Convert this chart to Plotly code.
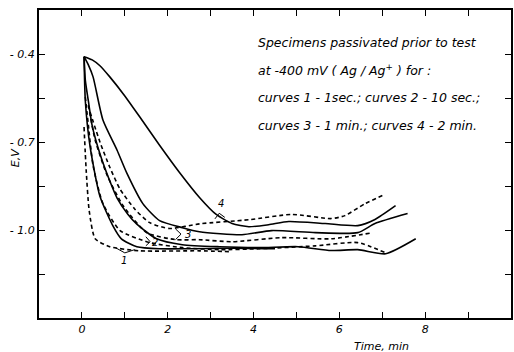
import plotly.graph_objects as go

# ---- data (time in min, potential in V) ----
s4_t = [0.05, 0.24, 0.42, 0.65, 1.00, 1.35, 1.81, 2.27, 2.74, 3.13, 3.50, 3.89, 4.35, 4.82, 5.67, 6.43, 6.83, 7.31]
s4_e = [-0.409, -0.420, -0.440, -0.478, -0.543, -0.615, -0.711, -0.803, -0.889, -0.947, -0.978, -0.989, -0.982, -0.971, -0.978, -0.985, -0.964, -0.917]

s3_t = [0.05, 0.15, 0.26, 0.49, 0.82, 1.05, 1.42, 1.81, 2.34, 2.74, 3.73, 4.42, 5.44, 6.43, 6.83, 7.59]
s3_e = [-0.409, -0.437, -0.478, -0.625, -0.728, -0.807, -0.910, -0.968, -0.992, -1.006, -1.016, -1.002, -1.009, -1.009, -0.978, -0.944]

s2_t = [0.05, 0.08, 0.15, 0.24, 0.42, 0.65, 0.82, 1.07, 1.28, 1.74, 2.34, 3.20, 4.12, 5.04, 5.81, 6.43, 7.08, 7.78]
s2_e = [-0.409, -0.490, -0.560, -0.645, -0.740, -0.833, -0.891, -0.946, -0.980, -1.030, -1.050, -1.057, -1.060, -1.057, -1.070, -1.067, -1.081, -1.030]

s1_t = [0.05, 0.08, 0.19, 0.42, 0.72, 0.92, 1.28, 1.80, 2.50, 3.50, 4.50]
s1_e = [-0.409, -0.560, -0.715, -0.885, -0.985, -1.030, -1.057, -1.064, -1.064, -1.062, -1.064]

d4_t = [0.19, 0.42, 0.65, 0.89, 1.24, 1.58, 2.04, 2.74, 3.89, 4.89, 5.81, 6.13, 6.60, 7.01]
d4_e = [-0.598, -0.700, -0.786, -0.861, -0.930, -0.975, -0.995, -0.979, -0.965, -0.947, -0.961, -0.951, -0.910, -0.882]

d3_t = [0.15, 0.31, 0.59, 0.96, 1.51, 2.20, 2.74, 3.50, 4.65, 5.81, 6.78]
d3_e = [-0.574, -0.694, -0.814, -0.917, -1.009, -1.033, -1.033, -1.040, -1.026, -1.030, -1.009]

d2_t = [0.08, 0.15, 0.26, 0.49, 0.89, 1.58, 2.34, 3.20, 4.12, 5.44, 6.43, 7.08]
d2_e = [-0.546, -0.642, -0.780, -0.910, -1.002, -1.043, -1.060, -1.067, -1.064, -1.054, -1.043, -1.078]

d1_t = [0.05, 0.10, 0.17, 0.31, 0.65, 1.35, 2.74, 3.50]
d1_e = [-0.649, -0.797, -0.934, -1.030, -1.057, -1.071, -1.071, -1.074]

# curve-number labels and their small pointer marks
label_text = ["4", "3", "2", "1"]
label_t = [3.24, 2.48, 1.70, 0.98]
label_e = [-0.910, -1.014, -1.042, -1.104]
ptr_t = [[3.10, 3.20, 3.33], [2.18, 2.31, 2.18], [1.49, 1.59, 1.49], [0.79, 1.00, 1.23]]
ptr_e = [[-0.962, -0.943, -0.957], [-0.996, -1.014, -1.033], [-1.023, -1.040, -1.054], [-1.061, -1.078, -1.067]]

x_major = [0, 2, 4, 6, 8]
x_major_text = ["0", "2", "4", "6", "8"]
x_minor = [1, 3, 5, 7, 9]
y_major = [-0.4, -0.7, -1.0]
y_major_text = ["- 0.4", "- 0.7", "- 1.0"]
y_minor = [-0.25, -0.55, -0.85, -1.15]

note_lines = [
    "Specimens passivated prior to test",
    "at -400 mV ( Ag / Ag<sup>+</sup> ) for :",
    "curves 1 - 1sec.; curves 2 - 10 sec.;",
    "curves 3 - 1 min.; curves 4 - 2 min.",
]

FONT = "DejaVu Sans"

fig = go.Figure()
for t, e in [(s4_t, s4_e), (s3_t, s3_e), (s2_t, s2_e), (s1_t, s1_e)]:
    fig.add_trace(go.Scatter(x=t, y=e, mode="lines", line=dict(color="black", width=1.6, shape="spline", smoothing=0.6), showlegend=False))
for t, e in [(d4_t, d4_e), (d3_t, d3_e), (d2_t, d2_e), (d1_t, d1_e)]:
    fig.add_trace(go.Scatter(x=t, y=e, mode="lines", line=dict(color="black", width=1.6, dash="4px,3px", shape="spline", smoothing=0.6), showlegend=False))
for t, e in zip(ptr_t, ptr_e):
    fig.add_trace(go.Scatter(x=t, y=e, mode="lines", line=dict(color="black", width=1), showlegend=False))

for txt, t, e in zip(label_text, label_t, label_e):
    fig.add_annotation(x=t, y=e, text=txt, showarrow=False, xanchor="center", yanchor="middle",
                       font=dict(family=FONT, size=10, color="black", style="italic"))

for i, line in enumerate(note_lines):
    fig.add_annotation(x=0.46, y=0.896 - i * 0.09, xref="paper", yref="paper", xanchor="left", yanchor="middle",
                       text=line, showarrow=False, font=dict(family=FONT, size=12.5, color="black", style="italic"))

fig.add_annotation(x=-0.05, y=0.52, xref="paper", yref="paper", xanchor="center", yanchor="middle",
                   text="E,V", textangle=-90, showarrow=False,
                   font=dict(family=FONT, size=11, color="black", style="italic"))
fig.add_annotation(x=0.726, y=-0.091, xref="paper", yref="paper", xanchor="center", yanchor="middle",
                   text="Time, min", showarrow=False,
                   font=dict(family=FONT, size=11, color="black", style="italic"))

fig.update_xaxes(range=[-1, 10], tickvals=x_major, ticktext=x_major_text, ticks="inside", ticklen=6, tickwidth=1.2,
                 tickcolor="black", showline=True, linewidth=2, linecolor="black", mirror="allticks",
                 minor=dict(tickvals=x_minor, ticks="inside", ticklen=6, tickwidth=1.2, tickcolor="black"),
                 showgrid=False, zeroline=False, tickfont=dict(family=FONT, size=11, color="black", style="italic"))
fig.update_yaxes(range=[-1.3, -0.25], tickvals=y_major, ticktext=y_major_text, ticks="inside", ticklen=6, tickwidth=1.2,
                 tickcolor="black", showline=True, linewidth=2, linecolor="black", mirror="allticks",
                 minor=dict(tickvals=y_minor, ticks="inside", ticklen=6, tickwidth=1.2, tickcolor="black"),
                 showgrid=False, zeroline=False, tickfont=dict(family=FONT, size=11, color="black", style="italic"))

fig.update_layout(width=514, height=352, margin=dict(l=39, r=1, t=10, b=34),
                  paper_bgcolor="white", plot_bgcolor="white", showlegend=False)

fig.write_html("out.html")
